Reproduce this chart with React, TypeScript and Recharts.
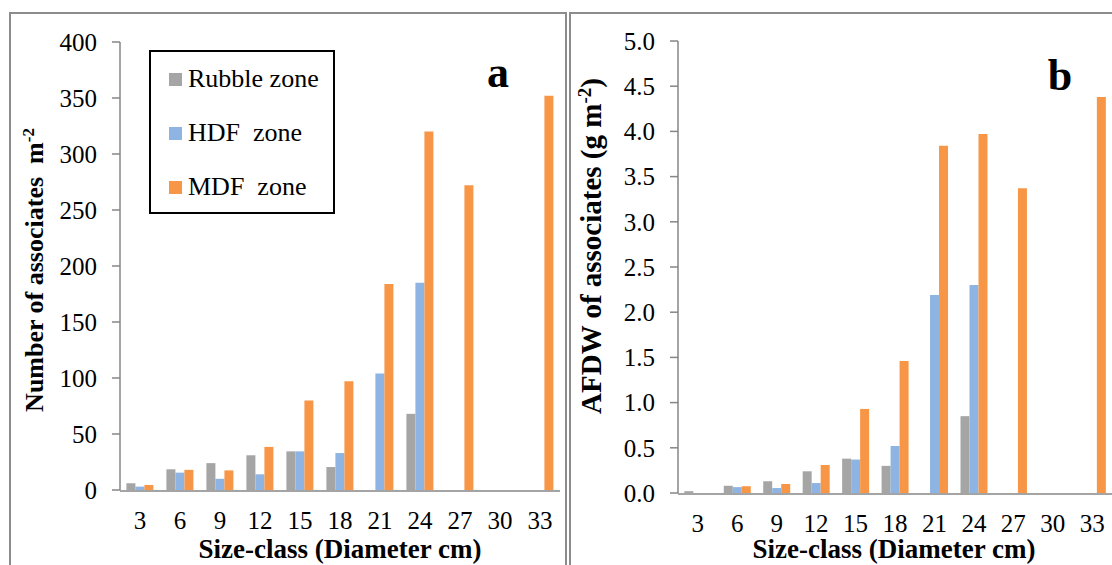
import { BarChart, Bar, XAxis, YAxis, Legend, Label } from "recharts"

const sizeClasses = ["3", "6", "9", "12", "15", "18", "21", "24", "27", "30", "33"]

// number of associates per m2
const rubbleCount = [6, 18.5, 24, 31, 34.5, 20.5, 0, 68, 0, 0, 0]
const hdfCount = [3, 15.5, 10, 14, 34.5, 33, 104, 185, 0, 0, 0]
const mdfCount = [4.5, 18, 17.5, 38.5, 80, 97, 184, 320, 272, 0, 352]

// AFDW of associates (g m-2)
const rubbleAfdw = [0.02, 0.08, 0.13, 0.24, 0.38, 0.3, 0, 0.85, 0, 0, 0]
const hdfAfdw = [0, 0.065, 0.055, 0.11, 0.37, 0.52, 2.19, 2.3, 0, 0, 0]
const mdfAfdw = [0, 0.075, 0.1, 0.31, 0.93, 1.46, 3.84, 3.97, 3.37, 0, 4.38]

const countTicks = [0, 50, 100, 150, 200, 250, 300, 350, 400]
const afdwTicks = [0, 0.5, 1, 1.5, 2, 2.5, 3, 3.5, 4, 4.5, 5]

const zones = [
  { key: "rubble", name: "Rubble zone", color: "#A5A5A5" },
  { key: "hdf", name: "HDF  zone", color: "#8DB4E2" },
  { key: "mdf", name: "MDF  zone", color: "#F79646" },
]

const countData = sizeClasses.map((size, i) => ({
  size,
  rubble: rubbleCount[i],
  hdf: hdfCount[i],
  mdf: mdfCount[i],
}))

const afdwData = sizeClasses.map((size, i) => ({
  size,
  rubble: rubbleAfdw[i],
  hdf: hdfAfdw[i],
  mdf: mdfAfdw[i],
}))

// tick marks sit on the category boundaries, not on the labels
const edgeTicks = [...sizeClasses.map((_, i) => i), sizeClasses.length]

const FONT = '"Liberation Serif", "Times New Roman", serif'
const AXIS = "#868686"
const FRAME = "#8c8c8c"
const tickStyle = { fontSize: 25, fill: "#000", fontFamily: FONT }

function ZoneLegend() {
  return (
    <div
      style={{
        boxSizing: "border-box",
        width: 186,
        height: 164,
        border: "2px solid #000",
        background: "#fff",
        fontFamily: FONT,
        fontSize: 26,
        color: "#000",
      }}
    >
      {zones.map((z) => (
        <div key={z.key} style={{ display: "flex", alignItems: "center", height: 54, paddingLeft: 18 }}>
          <span style={{ width: 13, height: 13, background: z.color, marginRight: 6, flex: "none" }} />
          <span style={{ whiteSpace: "pre" }}>{z.name}</span>
        </div>
      ))}
    </div>
  )
}

function bars() {
  return zones.map((z) => (
    <Bar key={z.key} xAxisId="cat" dataKey={z.key} name={z.name} fill={z.color} isAnimationActive={false} />
  ))
}

function edgeAxis() {
  return (
    <XAxis
      xAxisId="edges"
      type="number"
      domain={[0, sizeClasses.length]}
      ticks={edgeTicks}
      allowDataOverflow
      tick={false}
      height={1}
      tickSize={8}
      stroke={AXIS}
      strokeWidth={1.5}
    />
  )
}

function catAxis(titleX: number) {
  return (
    <XAxis
      xAxisId="cat"
      dataKey="size"
      height={1}
      interval={0}
      tickLine={false}
      axisLine={false}
      tickSize={0}
      tickMargin={21}
      tick={tickStyle}
    >
      <Label
        content={() => (
          <text x={titleX} y={558} textAnchor="middle" fontFamily={FONT} fontWeight="bold" fontSize={27} fill="#000">
            Size-class (Diameter cm)
          </text>
        )}
      />
    </XAxis>
  )
}

function PanelA() {
  return (
    <BarChart
      width={566}
      height={565}
      data={countData}
      margin={{ top: 42, right: 6, bottom: 73, left: 0 }}
      barCategoryGap="16%"
      barGap={0}
    >
      {edgeAxis()}
      {catAxis(340)}
      <YAxis
        width={120}
        domain={[0, 400]}
        ticks={countTicks}
        interval={0}
        tickSize={8}
        tickMargin={15}
        stroke={AXIS}
        strokeWidth={1.5}
        tick={tickStyle}
      >
        <Label
          content={() => (
            <text
              transform="translate(43,270) rotate(-90)"
              textAnchor="middle"
              fontFamily={FONT}
              fontWeight="bold"
              fontSize={26}
              fill="#000"
              style={{ whiteSpace: "pre" }}
            >
              {"Number of associates  m"}
              <tspan dy={-9} fontSize={17}>-2</tspan>
            </text>
          )}
        />
        <Label
          content={() => (
            <text x={498} y={87} textAnchor="middle" fontFamily={FONT} fontWeight="bold" fontSize={44} fill="#000">
              a
            </text>
          )}
        />
      </YAxis>
      <Legend
        layout="vertical"
        align="center"
        verticalAlign="middle"
        wrapperStyle={{ left: 149, top: 50, width: 186, height: 164 }}
        content={() => <ZoneLegend />}
      />
      {bars()}
    </BarChart>
  )
}

function PanelB() {
  return (
    <BarChart
      width={546}
      height={565}
      data={afdwData}
      margin={{ top: 41, right: 0, bottom: 70, left: 0 }}
      barCategoryGap="16%"
      barGap={0}
    >
      {edgeAxis()}
      {catAxis(328)}
      <YAxis
        width={112}
        domain={[0, 5]}
        ticks={afdwTicks}
        interval={0}
        tickSize={8}
        tickMargin={15}
        tickFormatter={(v: number) => v.toFixed(1)}
        stroke={AXIS}
        strokeWidth={1.5}
        tick={tickStyle}
      >
        <Label
          content={() => (
            <text
              transform="translate(35,246) rotate(-90)"
              textAnchor="middle"
              fontFamily={FONT}
              fontWeight="bold"
              fontSize={29}
              fill="#000"
              style={{ whiteSpace: "pre" }}
            >
              {"AFDW of associates (g m"}
              <tspan dy={-10} fontSize={19}>-2</tspan>
              <tspan dy={10}>)</tspan>
            </text>
          )}
        />
        <Label
          content={() => (
            <text x={494} y={90} textAnchor="middle" fontFamily={FONT} fontWeight="bold" fontSize={44} fill="#000">
              b
            </text>
          )}
        />
      </YAxis>
      {bars()}
    </BarChart>
  )
}

export default function App() {
  return (
    <div
      style={{
        position: "absolute",
        left: 0,
        top: 0,
        width: 1112,
        height: 565,
        overflow: "hidden",
        background: "#fff",
      }}
    >
      <div
        style={{
          position: "absolute",
          left: 9,
          top: 12,
          width: 558,
          height: 600,
          boxSizing: "border-box",
          border: `2px solid ${FRAME}`,
        }}
      />
      <div
        style={{
          position: "absolute",
          left: 569,
          top: 12,
          width: 600,
          height: 600,
          boxSizing: "border-box",
          border: `2px solid ${FRAME}`,
        }}
      />
      <div style={{ position: "absolute", left: 0, top: 0 }}>
        <PanelA />
      </div>
      <div style={{ position: "absolute", left: 566, top: 0 }}>
        <PanelB />
      </div>
    </div>
  )
}
